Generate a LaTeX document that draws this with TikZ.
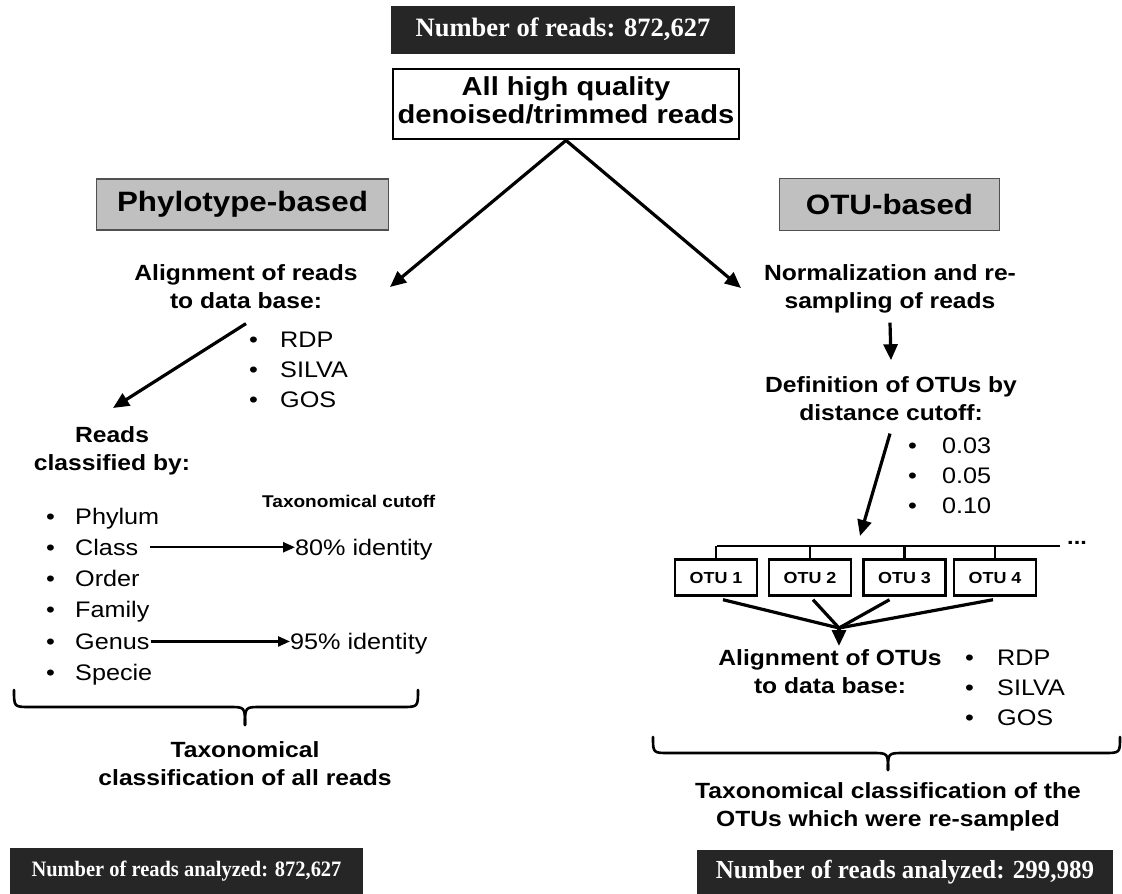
\documentclass[tikz,border=0pt]{standalone}
\usepackage{fontspec}
\setmainfont{Liberation Sans}[FakeStretch=1.12]
\newfontfamily\serifpl{Liberation Serif}
\newfontfamily\serifl{Liberation Serif}[FakeStretch=0.93]
\newfontfamily\serifr{Liberation Serif}[FakeStretch=0.96]
\usetikzlibrary{arrows.meta}
\definecolor{darkbox}{HTML}{262626}
\definecolor{graybox}{HTML}{C0C0C0}
\definecolor{grayline}{HTML}{505050}
\newcommand{\twoline}[2]{\begin{tabular}[t]{@{}c@{}}#1\\#2\end{tabular}}
\begin{document}
\begin{tikzpicture}[x=1pt,y=-1pt,
  darkstyle/.style={fill=darkbox, text=white, inner sep=0pt},
  graystyle/.style={fill=graybox, draw=grayline, line width=1.6pt, inner sep=0pt, font=\fontsize{28}{30}\selectfont\bfseries},
  bl/.style={font=\fontsize{22}{28}\selectfont\bfseries, inner sep=0pt},
  rg/.style={font=\fontsize{22.5}{30}\selectfont, inner sep=0pt},
  otubox/.style={draw, line width=2.4pt, minimum width=82pt, minimum height=36pt, inner sep=0pt, font=\fontsize{16}{18}\selectfont\bfseries},
  arr/.style={line width=3.2pt, -{Triangle[length=16pt,width=14pt]}},
  sarr/.style={line width=2.4pt, -{Triangle[length=12pt,width=10pt]}},
  plain/.style={line width=3.2pt},
  bracestyle/.style={line width=2.6pt, line cap=round},
  treeline/.style={line width=2.5pt}
]
\useasboundingbox (0,0) rectangle (1122,894);

% top
\node[darkstyle, minimum width=344pt, minimum height=48pt, font=\serifpl\bfseries\fontsize{26.5}{28}\selectfont] (nreads) at (563,29.5) {Number of reads: 872,627\hspace{14pt}};
\node[draw, line width=2.8pt, minimum width=346pt, minimum height=70pt, inner sep=0pt, font=\fontsize{26}{28}\selectfont\bfseries] (allreads) at (566,104) {\twoline{All high quality}{denoised/trimmed reads}};

% category boxes
\node[graystyle, minimum width=292pt, minimum height=51pt] (phylo) at (242.5,204.5) {Phylotype-based};
\node[graystyle, minimum width=220pt, minimum height=52pt] (otub) at (889.5,204.5) {OTU-based};

% main arrows
\coordinate (lt) at (390,287);
\coordinate (rt) at (741,288);
\draw[arr] (allreads.south) -- (lt);
\draw[arr] (allreads.south) -- (rt);

% left branch
\node[bl, anchor=base] (align) at (246,280) {\twoline{Alignment of reads}{to data base:}};
\foreach \t/\n [count=\i from 0] in {RDP/ldbA, SILVA/ldbB, GOS/ldbC} {
  \node[rg, anchor=base west] (b\n) at (249,{347+30*\i}) {•};
  \node[rg, anchor=base west] (\n) at (280,{347+30*\i}) {\t};
}
\node[bl, anchor=base] (reads) at (112,442) {\twoline{Reads}{classified by:}};
\coordinate (readsarr) at (113,408);
\draw[arr] ([yshift=-7pt]align.south) -- (readsarr);

\foreach \t/\n [count=\i from 0] in {Phylum/phylum, Class/class, Order/order, Family/family, Genus/genus, Specie/specie} {
  \node[rg, anchor=base west] (b\n) at (46,{524+31.3*\i}) {•};
  \node[rg, anchor=base west] (\n) at (75,{524+31.3*\i}) {\t};
}
\node[font=\fontsize{17}{20}\selectfont\bfseries, inner sep=0pt, anchor=base west] (taxcut) at (262,507) {Taxonomical cutoff};
\node[rg, anchor=base west] (id80) at (295,555.3) {80\% identity};
\node[rg, anchor=base west] (id95) at (290,649.2) {95\% identity};
\draw[sarr] ([xshift=12pt]class.east) -- (id80.west |- class.east);
\draw[sarr] ([xshift=1pt]genus.east) -- (id95.west |- genus.east);

% left brace
\draw[bracestyle] (14,690) .. controls (14,707) .. (30,707) -- (229,707) .. controls (245,707) .. (245,725);
\draw[bracestyle] (245,725) .. controls (245,707) .. (261,707) -- (402,707) .. controls (418,707) .. (418,690);
\node[bl, anchor=base] (taxall) at (245,757) {\twoline{Taxonomical}{classification of all reads}};

% right branch
\node[bl, anchor=base] (norm) at (890,280) {\twoline{Normalization and re-}{sampling of reads}};
\node[bl, anchor=base] (def) at (891,392) {\twoline{Definition of OTUs by}{distance cutoff:}};
\draw[arr] ([yshift=-6pt]norm.south) -- ([yshift=12pt]def.north);
\foreach \t/\n [count=\i from 0] in {0.03/cutA, 0.05/cutB, 0.10/cutC} {
  \node[rg, anchor=base west] (b\n) at (908,{453+30*\i}) {•};
  \node[rg, anchor=base west] (\n) at (942,{453+30*\i}) {\t};
}
\coordinate (treearr) at (860,536);
\draw[arr] ([xshift=-1pt,yshift=-5pt]def.south) -- (treearr);

% OTU tree
\coordinate (tl) at (717,546);
\coordinate (tr) at (1060,546);
\node[otubox] (otu1) at (716,577.5) {OTU 1};
\node[otubox] (otu2) at (810,577.5) {OTU 2};
\node[otubox] (otu3) at (904.5,577.5) {OTU 3};
\node[otubox] (otu4) at (995,577.5) {OTU 4};
\draw[treeline] (tl) -- (tr);
\foreach \n in {otu1,otu2,otu3,otu4} { \draw[treeline] (\n.north) -- (\n.north |- tl); }
\node[font=\fontsize{21}{21}\selectfont\bfseries, inner sep=0pt, anchor=west] (dots) at (1067,543) {...};

\coordinate (jn) at (839,628);
\coordinate (jnend) at (839,646);
\draw[plain] ([xshift=7pt,yshift=-3pt]otu1.south) -- (jn);
\draw[plain] ([xshift=3pt,yshift=-3pt]otu2.south) -- (jn);
\draw[plain] ([xshift=-15pt,yshift=-3pt]otu3.south) -- (jn);
\draw[plain] ([xshift=-2pt,yshift=-3pt]otu4.south) -- (jn);
\draw[arr] (jn) -- (jnend);

\node[bl, anchor=base] (alotu) at (830,665) {\twoline{Alignment of OTUs}{to data base:}};
\foreach \t/\n [count=\i from 0] in {RDP/rdbA, SILVA/rdbB, GOS/rdbC} {
  \node[rg, anchor=base west] (b\n) at (965,{665+30*\i}) {•};
  \node[rg, anchor=base west] (\n) at (997,{665+30*\i}) {\t};
}

% right brace
\draw[bracestyle] (653,737) .. controls (653,753) .. (669,753) -- (872,753) .. controls (888,753) .. (888,770);
\draw[bracestyle] (888,770) .. controls (888,753) .. (904,753) -- (1104,753) .. controls (1120,753) .. (1120,737);
\node[bl, anchor=base] (taxotu) at (888,798) {\twoline{Taxonomical classification of the}{OTUs which were re-sampled}};

% bottom boxes
\node[darkstyle, minimum width=353pt, minimum height=46pt, font=\serifl\bfseries\fontsize{22}{24}\selectfont] (anl) at (186.5,871) {Number of reads analyzed: 872,627};
\node[darkstyle, minimum width=416pt, minimum height=44pt, font=\serifr\bfseries\fontsize{26}{28}\selectfont] (anr) at (905,872) {Number of reads analyzed: 299,989};
\end{tikzpicture}
\end{document}
